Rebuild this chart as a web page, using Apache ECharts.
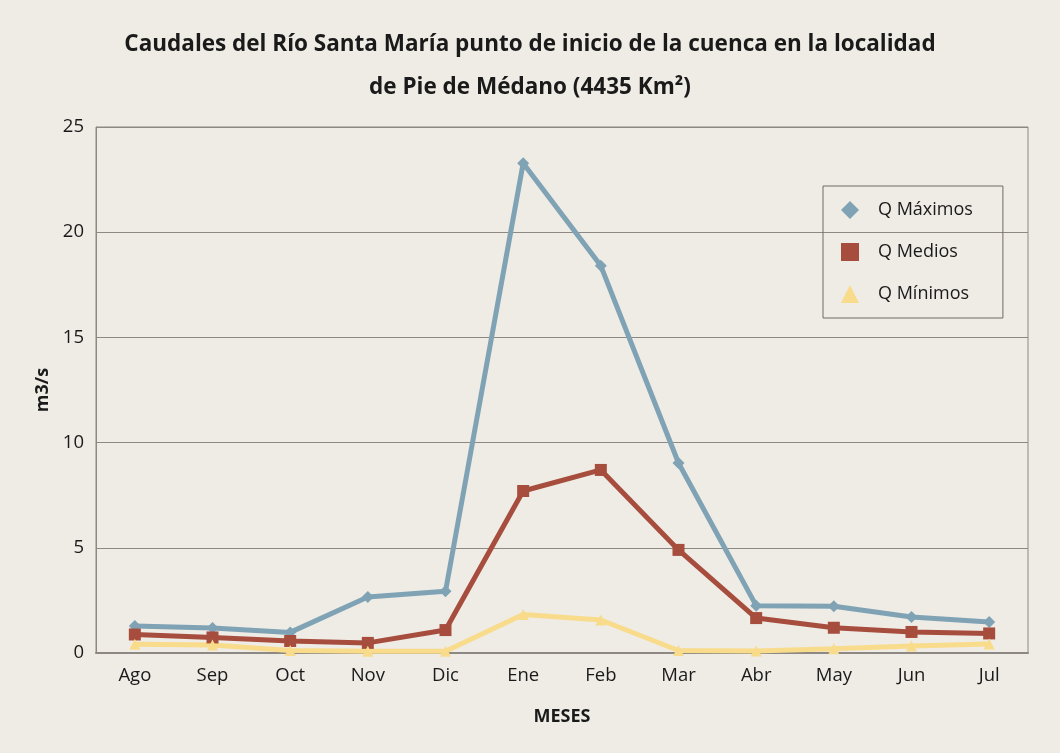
<!DOCTYPE html>
<html>
<head>
<meta charset="utf-8">
<script src="https://cdn.jsdelivr.net/npm/echarts@6/dist/echarts.min.js"></script>
<style>
  html, body { margin: 0; padding: 0; background: #efebe5; }
  #chart { width: 1060px; height: 753px; }
</style>
</head>
<body>
<div id="chart"></div>
<script>
// Monthly flows (m3/s) of the Río Santa María at Pie de Médano
const months = ['Ago', 'Sep', 'Oct', 'Nov', 'Dic', 'Ene', 'Feb', 'Mar', 'Abr', 'May', 'Jun', 'Jul'];
const qMaximos = [1.28, 1.19, 0.98, 2.66, 2.93, 23.28, 18.4, 9.03, 2.25, 2.22, 1.71, 1.47];
const qMedios  = [0.88, 0.74, 0.57, 0.48, 1.09, 7.7, 8.7, 4.9, 1.66, 1.2, 1.0, 0.93];
const qMinimos = [0.42, 0.38, 0.12, 0.08, 0.08, 1.83, 1.57, 0.12, 0.1, 0.2, 0.33, 0.43];
const yTicks = { min: 0, max: 25, interval: 5 };

const FONT = '"Open Sans", "Noto Sans", sans-serif';
const GRID_COLOR = '#8d8883';

const chart = echarts.init(document.getElementById('chart'), null, { renderer: 'canvas' });

function lineSeries(name, data, color, symbol, size) {
  return {
    name: name,
    type: 'line',
    data: data,
    symbol: symbol,
    symbolSize: size,
    itemStyle: { color: color },
    lineStyle: { color: color, width: 5 },
    emphasis: { disabled: true },
    z: 3
  };
}

chart.setOption({
  backgroundColor: '#efebe5',
  animation: false,
  textStyle: { fontFamily: FONT },
  title: {
    text: 'Caudales del Río Santa María punto de inicio de la cuenca en la localidad\nde Pie de Médano (4435 Km²)',
    left: 'center',
    top: 18,
    textStyle: {
      fontFamily: FONT,
      fontSize: 22.5,
      fontWeight: 'bold',
      color: '#1a1a1a',
      lineHeight: 43
    }
  },
  legend: {
    orient: 'vertical',
    left: 823,
    top: 186,
    padding: [15, 30, 15, 18],
    itemGap: 24,
    itemWidth: 18,
    itemHeight: 18,
    borderColor: '#6e6a66',
    borderWidth: 1,
    textStyle: { fontFamily: FONT, fontSize: 18, color: '#1a1a1a', padding: [0, 0, 0, 14] },
    data: [
      { name: 'Q Máximos', icon: 'diamond' },
      { name: 'Q Medios', icon: 'rect' },
      { name: 'Q Mínimos', icon: 'triangle' }
    ]
  },
  grid: {
    left: 96,
    right: 32,
    top: 127,
    bottom: 100,
    show: true,
    borderColor: GRID_COLOR,
    borderWidth: 1,
    backgroundColor: 'transparent'
  },
  xAxis: {
    type: 'category',
    data: months,
    boundaryGap: true,
    name: 'MESES',
    nameLocation: 'middle',
    nameGap: 55,
    nameTextStyle: { fontFamily: FONT, fontSize: 18, fontWeight: 'bold', color: '#1a1a1a' },
    axisLine: { lineStyle: { color: GRID_COLOR, width: 2 } },
    axisTick: { show: false },
    axisLabel: { fontFamily: FONT, fontSize: 18.5, color: '#1a1a1a', margin: 13 }
  },
  yAxis: {
    type: 'value',
    min: yTicks.min,
    max: yTicks.max,
    interval: yTicks.interval,
    name: 'm3/s',
    nameLocation: 'middle',
    nameGap: 38,
    nameRotate: 90,
    nameTextStyle: { fontFamily: FONT, fontSize: 18, fontWeight: 'bold', color: '#1a1a1a' },
    axisLine: { show: true, lineStyle: { color: GRID_COLOR, width: 1 } },
    axisTick: { show: false },
    axisLabel: { fontFamily: FONT, fontSize: 18.5, color: '#1a1a1a', margin: 12 },
    splitLine: { lineStyle: { color: GRID_COLOR, width: 1 } }
  },
  series: [
    lineSeries('Q Máximos', qMaximos, '#7fa3b4', 'diamond', 12),
    lineSeries('Q Medios', qMedios, '#a64d3e', 'rect', 12),
    lineSeries('Q Mínimos', qMinimos, '#f8dc8c', 'triangle', 11)
  ]
});
</script>
</body>
</html>
